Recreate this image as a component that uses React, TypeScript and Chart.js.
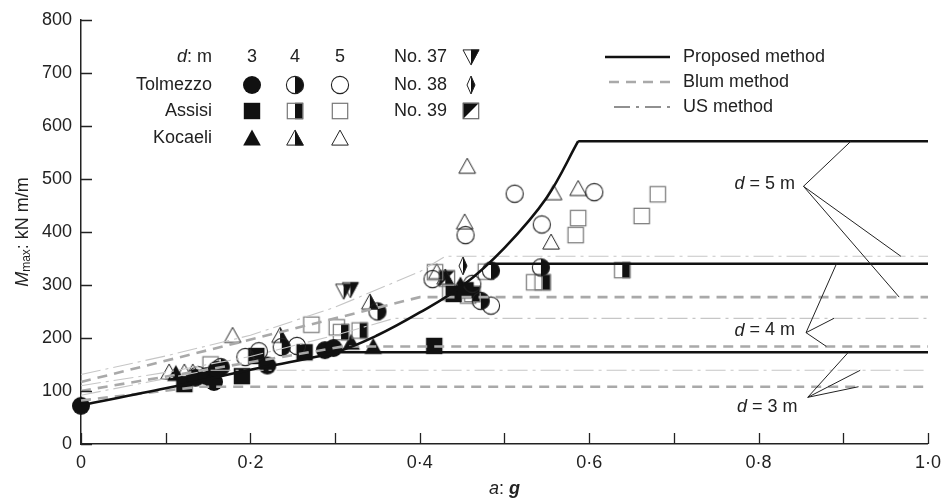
import React, { useEffect, useRef } from 'react';
import { Chart, registerables } from 'chart.js';

Chart.register(...registerables);

// ---------- axis ticks ----------
const xTickValues = [0, 0.1, 0.2, 0.3, 0.4, 0.5, 0.6, 0.7, 0.8, 0.9, 1.0];
const xTickLabels = ['0', '', '0·2', '', '0·4', '', '0·6', '', '0·8', '', '1·0'];
const yTickValues = [0, 100, 200, 300, 400, 500, 600, 700, 800];
const yTickLabels = ['0', '100', '200', '300', '400', '500', '600', '700', '800'];

// ---------- Proposed method (solid black) ----------
const proposedCurveX = [0, 0.1, 0.2, 0.3, 0.35, 0.4, 0.45, 0.5, 0.55, 0.587];
const proposedCurveY = [73, 105, 140, 173, 205, 248, 298, 370, 465, 571];
const proposedD3X = [0.3, 1.0];
const proposedD3Y = [173, 173];
const proposedD4X = [0.48, 1.0];
const proposedD4Y = [340, 340];
const proposedD5X = [0.587, 1.0];
const proposedD5Y = [571, 571];

// ---------- Blum method (grey dashed) ----------
const blumD3X = [0, 0.14, 1.0];
const blumD3Y = [82, 108, 108];
const blumD4X = [0, 0.31, 1.0];
const blumD4Y = [100, 184, 184];
const blumD5X = [0, 0.4, 1.0];
const blumD5Y = [117, 277, 277];

// ---------- US method (light dash-dot) ----------
const usD3X = [0, 0.15, 1.0];
const usD3Y = [92, 139, 139];
const usD4X = [0, 0.1, 0.2, 0.3, 0.37, 1.0];
const usD4Y = [110, 135, 165, 205, 237, 237];
const usD5X = [0, 0.1, 0.2, 0.3, 0.4, 0.43, 1.0];
const usD5Y = [131, 166, 205, 258, 325, 354, 354];

// ---------- measured points ----------
const tolmezzo3X = [0, 0.135, 0.148, 0.157, 0.16, 0.22, 0.288, 0.298];
const tolmezzo3Y = [72, 125, 128, 117, 140, 148, 177, 181];
const tolmezzo4X = [0.165, 0.237, 0.35, 0.472, 0.484, 0.543];
const tolmezzo4Y = [145, 183, 250, 270, 327, 333];
const tolmezzo5X = [0.138, 0.194, 0.21, 0.255, 0.415, 0.462, 0.484, 0.454, 0.512, 0.544, 0.606];
const tolmezzo5Y = [130, 164, 175, 185, 311, 302, 261, 394, 472, 414, 475];
const assisi3X = [0.122, 0.19, 0.207, 0.264, 0.417, 0.44, 0.454];
const assisi3Y = [113, 128, 166, 173, 185, 283, 290];
const assisi4X = [0.307, 0.329, 0.462, 0.545, 0.639];
const assisi4Y = [211, 214, 283, 305, 328];
const assisi5X = [0.153, 0.272, 0.302, 0.418, 0.436, 0.457, 0.478, 0.535, 0.584, 0.587, 0.662, 0.681];
const assisi5Y = [150, 225, 220, 324, 286, 280, 325, 305, 394, 426, 430, 471];
const kocaeli3X = [0.112, 0.319, 0.345, 0.448];
const kocaeli3Y = [133, 192, 184, 300];
const kocaeli4X = [0.235, 0.341, 0.43];
const kocaeli4Y = [205, 268, 315];
const kocaeli5X = [0.104, 0.122, 0.132, 0.179, 0.42, 0.453, 0.456, 0.555, 0.558, 0.587];
const kocaeli5Y = [136, 136, 136, 205, 325, 419, 524, 381, 474, 482];
const no37X = [0.31, 0.318];
const no37Y = [288, 291];
const no38X = [0.451];
const no38Y = [336];
const no39X = [0.432];
const no39Y = [312];

// ---------- annotation (d = ... m) leaders, in data units ----------
const annotLabels = ['5', '4', '3'];
const annotTextX = [0.843, 0.843, 0.846];
const annotTextY = [490, 214, 69];
const annotOriginX = [0.853, 0.856, 0.858];
const annotOriginY = [486, 210, 88];
const annotEndX = [[0.909, 0.968, 0.966], [0.892, 0.889, 0.880], [0.906, 0.920, 0.918]];
const annotEndY = [[571, 354, 277], [340, 237, 184], [173, 139, 108]];

const FONT = '"Liberation Sans", Arial, Helvetica, sans-serif';
const TEXT = '#222';
const FS = 18;

const pts = (xs: number[], ys: number[]) => xs.map((x, i) => ({ x, y: ys[i] }));

type Kind =
  | 'circleFull' | 'circleHalf' | 'circleOpen'
  | 'squareFull' | 'squareHalf' | 'squareOpen'
  | 'triFull' | 'triHalf' | 'triOpen'
  | 'no37' | 'no38' | 'no39';

function makeMarker(kind: Kind): HTMLCanvasElement {
  const S = 22;
  const c = document.createElement('canvas');
  c.width = S;
  c.height = S;
  const g = c.getContext('2d')!;
  const m = S / 2;
  g.lineJoin = 'miter';
  const black = '#111';
  if (kind.startsWith('circle')) {
    const r = 8.6;
    if (kind === 'circleFull') {
      g.beginPath(); g.arc(m, m, r + 0.4, 0, Math.PI * 2); g.fillStyle = black; g.fill();
    } else {
      if (kind === 'circleHalf') {
        g.beginPath(); g.arc(m, m, r, -Math.PI / 2, Math.PI / 2); g.closePath();
        g.fillStyle = black; g.fill();
      }
      g.beginPath(); g.arc(m, m, r, 0, Math.PI * 2);
      g.strokeStyle = '#222'; g.lineWidth = 1.1; g.stroke();
    }
  } else if (kind.startsWith('square')) {
    const h = 8.2;
    if (kind === 'squareFull') {
      g.fillStyle = black; g.fillRect(m - h, m - h, 2 * h, 2 * h);
    } else {
      if (kind === 'squareHalf') {
        g.fillStyle = black; g.fillRect(m, m - h, h, 2 * h);
      }
      g.strokeStyle = '#777'; g.lineWidth = 1.2;
      g.strokeRect(m - h + 0.5, m - h + 0.5, 2 * h - 1, 2 * h - 1);
    }
  } else if (kind.startsWith('tri')) {
    const top = m - 8.5, bot = m + 7.5, hw = 8.8;
    if (kind === 'triFull') {
      g.beginPath(); g.moveTo(m, top); g.lineTo(m + hw, bot); g.lineTo(m - hw, bot); g.closePath();
      g.fillStyle = black; g.fill();
    } else {
      if (kind === 'triHalf') {
        g.beginPath(); g.moveTo(m, top); g.lineTo(m + hw, bot); g.lineTo(m, bot); g.closePath();
        g.fillStyle = black; g.fill();
      }
      g.beginPath(); g.moveTo(m, top + 0.6); g.lineTo(m + hw - 0.5, bot - 0.4); g.lineTo(m - hw + 0.5, bot - 0.4); g.closePath();
      g.strokeStyle = '#222'; g.lineWidth = 1; g.stroke();
    }
  } else if (kind === 'no37') {
    const top = m - 7.5, bot = m + 8.5, hw = 8.5;
    g.beginPath(); g.moveTo(m, top); g.lineTo(m + hw, top); g.lineTo(m, bot); g.closePath();
    g.fillStyle = black; g.fill();
    g.beginPath(); g.moveTo(m - hw + 0.5, top + 0.4); g.lineTo(m + hw - 0.5, top + 0.4); g.lineTo(m, bot - 0.6); g.closePath();
    g.strokeStyle = '#222'; g.lineWidth = 1; g.stroke();
  } else if (kind === 'no38') {
    const hh = 9, hw = 4;
    g.beginPath(); g.moveTo(m, m - hh); g.lineTo(m + hw, m); g.lineTo(m, m + hh); g.closePath();
    g.fillStyle = black; g.fill();
    g.beginPath(); g.moveTo(m, m - hh); g.lineTo(m + hw, m); g.lineTo(m, m + hh); g.lineTo(m - hw, m); g.closePath();
    g.strokeStyle = '#222'; g.lineWidth = 1; g.stroke();
  } else if (kind === 'no39') {
    const h = 8.2;
    g.beginPath(); g.moveTo(m - h, m - h); g.lineTo(m + h, m - h); g.lineTo(m - h, m + h); g.closePath();
    g.fillStyle = black; g.fill();
    g.strokeStyle = '#666'; g.lineWidth = 1.2;
    g.strokeRect(m - h + 0.5, m - h + 0.5, 2 * h - 1, 2 * h - 1);
  }
  return c;
}

function drawRich(ctx: CanvasRenderingContext2D, parts: { t: string; f: string; dy?: number }[], x: number, y: number, align: 'left' | 'right' | 'center') {
  let total = 0;
  for (const p of parts) { ctx.font = p.f; total += ctx.measureText(p.t).width; }
  let cx = align === 'left' ? x : align === 'right' ? x - total : x - total / 2;
  ctx.textAlign = 'left';
  ctx.textBaseline = 'middle';
  for (const p of parts) {
    ctx.font = p.f;
    ctx.fillText(p.t, cx, y + (p.dy || 0));
    cx += ctx.measureText(p.t).width;
  }
}

export default function App() {
  const ref = useRef<HTMLCanvasElement | null>(null);

  useEffect(() => {
    if (!ref.current) return;
    const markers: Record<Kind, HTMLCanvasElement> = {
      circleFull: makeMarker('circleFull'), circleHalf: makeMarker('circleHalf'), circleOpen: makeMarker('circleOpen'),
      squareFull: makeMarker('squareFull'), squareHalf: makeMarker('squareHalf'), squareOpen: makeMarker('squareOpen'),
      triFull: makeMarker('triFull'), triHalf: makeMarker('triHalf'), triOpen: makeMarker('triOpen'),
      no37: makeMarker('no37'), no38: makeMarker('no38'), no39: makeMarker('no39'),
    };

    const lineDs = (label: string, xs: number[], ys: number[], kind: 'p' | 'b' | 'u', tension = 0) => ({
      type: 'line' as const,
      label,
      data: pts(xs, ys),
      showLine: true,
      pointRadius: 0,
      tension,
      fill: false,
      order: 0,
      borderColor: kind === 'p' ? '#111' : kind === 'b' ? '#a9a9a9' : '#c6c6c6',
      borderWidth: kind === 'p' ? 2.6 : kind === 'b' ? 2.6 : 1.1,
      borderDash: kind === 'p' ? [] : kind === 'b' ? [10, 7] : [20, 5, 3, 5],
    });

    const scatterDs = (label: string, xs: number[], ys: number[], kind: Kind) => ({
      type: 'scatter' as const,
      label,
      data: pts(xs, ys),
      pointStyle: markers[kind],
      pointRadius: 9,
      order: 1,
    });

    const decor = {
      id: 'decor',
      afterDraw(chart: any) {
        const ctx: CanvasRenderingContext2D = chart.ctx;
        const xs = chart.scales.x, ys = chart.scales.y;
        const area = chart.chartArea;
        ctx.save();
        // inward ticks
        ctx.strokeStyle = '#222';
        ctx.lineWidth = 1.3;
        ctx.beginPath();
        for (const v of xTickValues) {
          const px = Math.round(xs.getPixelForValue(v)) + 0.5;
          ctx.moveTo(px, area.bottom); ctx.lineTo(px, area.bottom - 11);
        }
        for (const v of yTickValues) {
          const py = Math.round(ys.getPixelForValue(v)) + 0.5;
          ctx.moveTo(area.left, py); ctx.lineTo(area.left + 11, py);
        }
        ctx.stroke();

        ctx.fillStyle = TEXT;
        // axis titles
        drawRich(ctx, [
          { t: 'a', f: `italic ${FS}px ${FONT}` },
          { t: ': ', f: `${FS}px ${FONT}` },
          { t: 'g', f: `italic bold ${FS}px ${FONT}` },
        ], (area.left + area.right) / 2, 489, 'center');
        ctx.save();
        ctx.translate(23, 232);
        ctx.rotate(-Math.PI / 2);
        drawRich(ctx, [
          { t: 'M', f: `italic ${FS}px ${FONT}` },
          { t: 'max', f: `12px ${FONT}`, dy: 4 },
          { t: ': kN m/m', f: `${FS}px ${FONT}` },
        ], 0, 0, 'center');
        ctx.restore();

        // marker legend
        const rowY = [57, 85, 111, 138];
        const colX = [252, 295, 340];
        drawRich(ctx, [{ t: 'd', f: `italic ${FS}px ${FONT}` }, { t: ': m', f: `${FS}px ${FONT}` }], 212, rowY[0], 'right');
        ['3', '4', '5'].forEach((t, i) => drawRich(ctx, [{ t, f: `${FS}px ${FONT}` }], colX[i], rowY[0], 'center'));
        const rows: [string, Kind[]][] = [
          ['Tolmezzo', ['circleFull', 'circleHalf', 'circleOpen']],
          ['Assisi', ['squareFull', 'squareHalf', 'squareOpen']],
          ['Kocaeli', ['triFull', 'triHalf', 'triOpen']],
        ];
        rows.forEach(([name, kinds], r) => {
          drawRich(ctx, [{ t: name, f: `${FS}px ${FONT}` }], 212, rowY[r + 1], 'right');
          kinds.forEach((k, c) => {
            const mk = markers[k];
            ctx.drawImage(mk, colX[c] - mk.width / 2, rowY[r + 1] - mk.height / 2);
          });
        });
        const noRows: [string, Kind][] = [['No. 37', 'no37'], ['No. 38', 'no38'], ['No. 39', 'no39']];
        noRows.forEach(([name, k], r) => {
          drawRich(ctx, [{ t: name, f: `${FS}px ${FONT}` }], 447, rowY[r], 'right');
          const mk = markers[k];
          ctx.drawImage(mk, 471 - mk.width / 2, rowY[r] - mk.height / 2);
        });

        // line legend
        const lg: [string, 'p' | 'b' | 'u'][] = [['Proposed method', 'p'], ['Blum method', 'b'], ['US method', 'u']];
        const lgY = [57, 82, 107];
        lg.forEach(([name, k], i) => {
          ctx.save();
          ctx.beginPath();
          ctx.strokeStyle = k === 'p' ? '#111' : k === 'b' ? '#a9a9a9' : '#222';
          ctx.lineWidth = k === 'p' ? 2.6 : k === 'b' ? 2.6 : 1.1;
          ctx.setLineDash(k === 'p' ? [] : k === 'b' ? [10, 7] : [16, 6, 3, 6]);
          ctx.moveTo(k === 'p' ? 605 : k === 'b' ? 609 : 614, lgY[i]);
          ctx.lineTo(670, lgY[i]);
          ctx.stroke();
          ctx.restore();
          drawRich(ctx, [{ t: name, f: `${FS}px ${FONT}` }], 683, lgY[i], 'left');
        });

        // d = ... m annotations
        ctx.strokeStyle = '#222';
        ctx.lineWidth = 1;
        annotLabels.forEach((lab, i) => {
          const ox = xs.getPixelForValue(annotOriginX[i]);
          const oy = ys.getPixelForValue(annotOriginY[i]);
          ctx.beginPath();
          annotEndX[i].forEach((ex, j) => {
            ctx.moveTo(ox, oy);
            ctx.lineTo(xs.getPixelForValue(ex), ys.getPixelForValue(annotEndY[i][j]));
          });
          ctx.stroke();
          drawRich(ctx, [
            { t: 'd', f: `italic ${FS}px ${FONT}` },
            { t: ` = ${lab} m`, f: `${FS}px ${FONT}` },
          ], xs.getPixelForValue(annotTextX[i]), ys.getPixelForValue(annotTextY[i]), 'right');
        });
        ctx.restore();
      },
    };

    const chart = new Chart(ref.current, {
      type: 'scatter',
      data: {
        datasets: [
          lineDs('Proposed', proposedCurveX, proposedCurveY, 'p', 0.35),
          lineDs('Proposed d3', proposedD3X, proposedD3Y, 'p'),
          lineDs('Proposed d4', proposedD4X, proposedD4Y, 'p'),
          lineDs('Proposed d5', proposedD5X, proposedD5Y, 'p'),
          lineDs('Blum d3', blumD3X, blumD3Y, 'b'),
          lineDs('Blum d4', blumD4X, blumD4Y, 'b'),
          lineDs('Blum d5', blumD5X, blumD5Y, 'b'),
          lineDs('US d3', usD3X, usD3Y, 'u'),
          lineDs('US d4', usD4X, usD4Y, 'u'),
          lineDs('US d5', usD5X, usD5Y, 'u'),
          scatterDs('Tolmezzo 3', tolmezzo3X, tolmezzo3Y, 'circleFull'),
          scatterDs('Tolmezzo 4', tolmezzo4X, tolmezzo4Y, 'circleHalf'),
          scatterDs('Tolmezzo 5', tolmezzo5X, tolmezzo5Y, 'circleOpen'),
          scatterDs('Assisi 3', assisi3X, assisi3Y, 'squareFull'),
          scatterDs('Assisi 4', assisi4X, assisi4Y, 'squareHalf'),
          scatterDs('Assisi 5', assisi5X, assisi5Y, 'squareOpen'),
          scatterDs('Kocaeli 3', kocaeli3X, kocaeli3Y, 'triFull'),
          scatterDs('Kocaeli 4', kocaeli4X, kocaeli4Y, 'triHalf'),
          scatterDs('Kocaeli 5', kocaeli5X, kocaeli5Y, 'triOpen'),
          scatterDs('No. 37', no37X, no37Y, 'no37'),
          scatterDs('No. 38', no38X, no38Y, 'no38'),
          scatterDs('No. 39', no39X, no39Y, 'no39'),
        ] as any,
      },
      options: {
        animation: false,
        responsive: false,
        clip: false as any,
        layout: { padding: { top: 18, right: 15, left: 0, bottom: 0 } },
        plugins: { legend: { display: false }, tooltip: { enabled: false } },
        scales: {
          x: {
            type: 'linear',
            min: 0,
            max: 1,
            afterBuildTicks: (s: any) => { s.ticks = xTickValues.map((v) => ({ value: v })); },
            afterFit: (s: any) => { s.height = 57; },
            ticks: {
              autoSkip: false,
              maxRotation: 0,
              padding: 8,
              color: TEXT,
              font: { family: FONT, size: FS },
              callback: (v: any) => xTickLabels[Math.round(Number(v) * 10)] ?? '',
            },
            grid: { display: false, drawTicks: false },
            border: { display: true, color: '#222', width: 1.5 },
          },
          y: {
            type: 'linear',
            min: 0,
            max: 800,
            afterBuildTicks: (s: any) => { s.ticks = yTickValues.map((v) => ({ value: v })); },
            afterFit: (s: any) => { s.width = 81; },
            ticks: {
              autoSkip: false,
              padding: 9,
              color: TEXT,
              font: { family: FONT, size: FS },
              callback: (v: any) => yTickLabels[Math.round(Number(v) / 100)] ?? '',
            },
            grid: { display: false, drawTicks: false },
            border: { display: true, color: '#222', width: 1.5 },
          },
        },
      },
      plugins: [decor],
    } as any);

    return () => chart.destroy();
  }, []);

  return (
    <div style={{ position: 'fixed', left: 0, top: 0, width: 949, height: 501, background: '#fff' }}>
      <canvas ref={ref} width={949} height={501} style={{ display: 'block' }} />
    </div>
  );
}
